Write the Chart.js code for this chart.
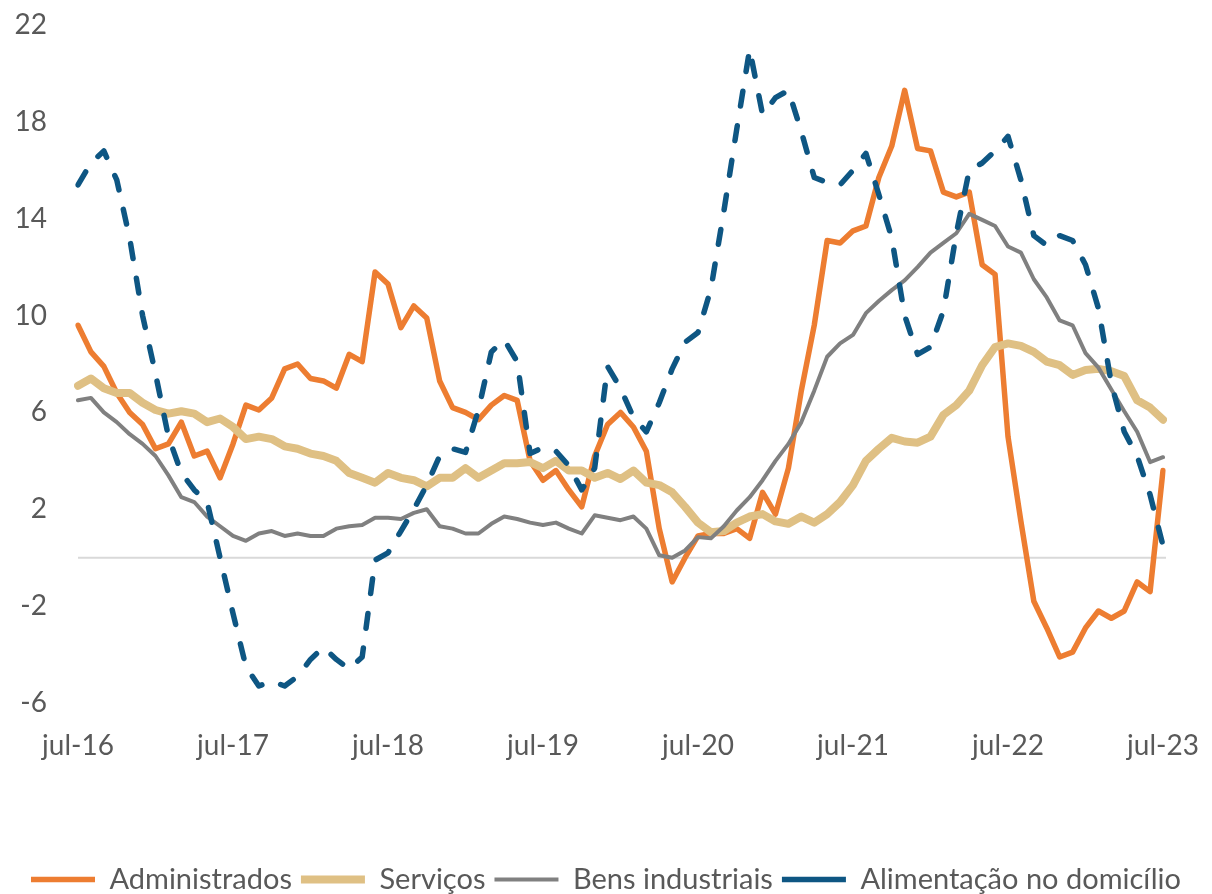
<!DOCTYPE html>
<html lang="pt-BR">
<head>
<meta charset="utf-8">
<title>Inflação por grupos</title>
<script src="https://cdn.jsdelivr.net/npm/chart.js@4.4.1/dist/chart.umd.min.js"></script>
<style>
  html, body { margin: 0; padding: 0; background: #ffffff; }
  canvas { display: block; }
</style>
</head>
<body>
<canvas id="grafico" width="1212" height="894"></canvas>
<script>
        // Meses (jul-16 a jul-23)
        const meses = ['jul', 'ago', 'set', 'out', 'nov', 'dez', 'jan', 'fev', 'mar', 'abr', 'mai', 'jun'];
        const categorias = [];
        for (let i = 0; i < 85; i++) {
            const ano = 16 + Math.floor((i + 6) / 12);
            categorias.push(meses[i % 12] + '-' + ano);
        }

        const administrados = [
            9.6, 8.5, 7.9, 6.8, 6.0, 5.5, 4.5, 4.7, 5.6, 4.2, 4.4, 3.3,
            4.7, 6.3, 6.1, 6.6, 7.8, 8.0, 7.4, 7.3, 7.0, 8.4, 8.1, 11.8,
            11.3, 9.5, 10.4, 9.9, 7.3, 6.2, 6.0, 5.7, 6.3, 6.7, 6.5, 4.0,
            3.2, 3.6, 2.8, 2.1, 4.2, 5.5, 6.0, 5.4, 4.4, 1.2, -1.0, 0.0,
            0.9, 1.0, 1.0, 1.2, 0.8, 2.7, 1.8, 3.7, 6.9, 9.6, 13.1, 13.0,
            13.5, 13.7, 15.7, 17.0, 19.3, 16.9, 16.8, 15.1, 14.9, 15.1, 12.1, 11.7,
            5.0, 1.5, -1.8, -2.9, -4.1, -3.9, -2.9, -2.2, -2.5, -2.2, -1.0, -1.4,
            3.6
        ];
        const servicos = [
            7.1, 7.4, 7.0, 6.8, 6.8, 6.4, 6.1, 5.95, 6.05, 5.95, 5.6, 5.75,
            5.4, 4.9, 5.0, 4.9, 4.6, 4.5, 4.3, 4.2, 4.0, 3.5, 3.3, 3.1,
            3.5, 3.3, 3.2, 2.95, 3.3, 3.3, 3.7, 3.3, 3.6, 3.9, 3.9, 3.95,
            3.7, 4.0, 3.6, 3.6, 3.3, 3.5, 3.25, 3.6, 3.1, 3.0, 2.7, 2.1,
            1.45, 1.05, 1.1, 1.45, 1.7, 1.8, 1.5, 1.4, 1.7, 1.45, 1.8, 2.3,
            3.0, 4.0, 4.5, 4.95, 4.8, 4.75, 5.0, 5.9, 6.3, 6.9, 7.95, 8.7,
            8.85, 8.75, 8.5, 8.1, 7.95, 7.55, 7.75, 7.8, 7.7, 7.5, 6.5, 6.2,
            5.7
        ];
        const bensIndustriais = [
            6.5, 6.6, 6.0, 5.6, 5.1, 4.7, 4.2, 3.4, 2.5, 2.3, 1.7, 1.3,
            0.9, 0.7, 1.0, 1.1, 0.9, 1.0, 0.9, 0.9, 1.2, 1.3, 1.35, 1.65,
            1.65, 1.6, 1.85, 2.0, 1.3, 1.2, 1.0, 1.0, 1.4, 1.7, 1.6, 1.45,
            1.35, 1.45, 1.2, 1.0, 1.75, 1.65, 1.55, 1.7, 1.2, 0.1, 0.0, 0.3,
            0.85, 0.8, 1.3, 1.95, 2.5, 3.2, 4.0, 4.7, 5.6, 6.9, 8.3, 8.85,
            9.2, 10.1, 10.6, 11.05, 11.45, 12.0, 12.6, 13.0, 13.4, 14.2, 13.95, 13.7,
            12.85, 12.6, 11.5, 10.75, 9.8, 9.6, 8.45, 7.85, 6.95, 6.05, 5.2, 3.95,
            4.15
        ];
        const alimentacaoDomicilio = [
            15.4, 16.3, 16.8, 15.6, 13.2, 10.0, 7.6, 5.0, 3.5, 2.8, 2.3, 0.0,
            -2.3, -4.5, -5.3, -5.1, -5.3, -4.9, -4.2, -3.7, -4.2, -4.6, -4.1, -0.1,
            0.2, 1.1, 2.0, 3.0, 4.2, 4.5, 4.35, 6.1, 8.5, 9.0, 8.1, 4.3,
            4.55, 4.4, 3.8, 2.8, 3.7, 7.9, 7.0, 5.8, 5.2, 6.4, 7.8, 8.9,
            9.3, 11.1, 14.3, 17.7, 21.0, 18.3, 19.0, 19.3, 17.6, 15.7, 15.5, 15.4,
            16.0, 16.7, 15.0, 13.2, 10.0, 8.4, 8.7, 10.2, 13.4, 16.0, 16.3, 16.8,
            17.4, 15.6, 13.3, 12.9, 13.3, 13.1, 12.1, 10.3, 7.2, 5.2, 4.2, 2.6,
            0.5
        ];

        const fonte = { family: 'Lato', size: 28 };
        const fonteLegenda = { family: 'Lato', size: 29 };
        const corTexto = '#595959';

        // Linha do zero
        const linhaZero = {
            id: 'linhaZero',
            beforeDatasetsDraw(chart) {
                const { ctx, chartArea, scales } = chart;
                const y = scales.y.getPixelForValue(0);
                ctx.save();
                ctx.strokeStyle = '#d9d9d9';
                ctx.lineWidth = 2;
                ctx.beginPath();
                ctx.moveTo(chartArea.left, y);
                ctx.lineTo(chartArea.right + 3, y);
                ctx.stroke();
                ctx.restore();
            }
        };

        function serie(rotulo, dados, cor, largura, ordem, tracejado) {
            return {
                label: rotulo,
                data: dados,
                borderColor: cor,
                backgroundColor: cor,
                borderWidth: largura,
                borderDash: tracejado || [],
                borderCapStyle: 'round',
                borderJoinStyle: 'round',
                pointRadius: 0,
                tension: 0,
                order: ordem
            };
        }

        const ctx = document.getElementById('grafico').getContext('2d');
        window.grafico = new Chart(ctx, {
            type: 'line',
            data: {
                labels: categorias,
                datasets: [
                    serie('Administrados', administrados, '#ED7D31', 5.5, 4),
                    serie('Serviços', servicos, '#DFC084', 8, 3),
                    serie('Bens industriais', bensIndustriais, '#808080', 4, 2),
                    serie('Alimentação no domicílio', alimentacaoDomicilio, '#0E5683', 5.5, 1, [15, 20])
                ]
            },
            options: {
                responsive: false,
                maintainAspectRatio: false,
                animation: false,
                devicePixelRatio: 1,
                layout: { padding: { top: 0, left: 0, right: 0, bottom: -10 } },
                plugins: {
                    legend: {
                        position: 'bottom',
                        labels: {
                            usePointStyle: true,
                            pointStyle: 'line',
                            pointStyleWidth: 64,
                            padding: 9,
                            color: corTexto,
                            font: fonteLegenda,
                            sort: (a, b) => a.datasetIndex - b.datasetIndex
                        }
                    },
                    tooltip: { enabled: false }
                },
                scales: {
                    x: {
                        grid: { display: false, drawTicks: false },
                        border: { display: false },
                        ticks: {
                            autoSkip: false,
                            maxRotation: 0,
                            padding: 26,
                            color: corTexto,
                            font: fonte,
                            callback: function(valor, i) {
                                return i % 12 === 0 ? categorias[i] : null;
                            }
                        },
                        afterFit: function(escala) {
                            escala.height = 153;
                            escala.paddingRight = 49;
                        }
                    },
                    y: {
                        min: -6,
                        max: 22,
                        ticks: {
                            stepSize: 4,
                            padding: 31,
                            color: corTexto,
                            font: fonte
                        },
                        grid: { display: false, drawTicks: false },
                        border: { display: false },
                        afterFit: function(escala) {
                            escala.width = 78;
                            escala.paddingTop = 25;
                            escala.paddingBottom = 0;
                        }
                    }
                }
            },
            plugins: [linhaZero]
        });
</script>
</body>
</html>
